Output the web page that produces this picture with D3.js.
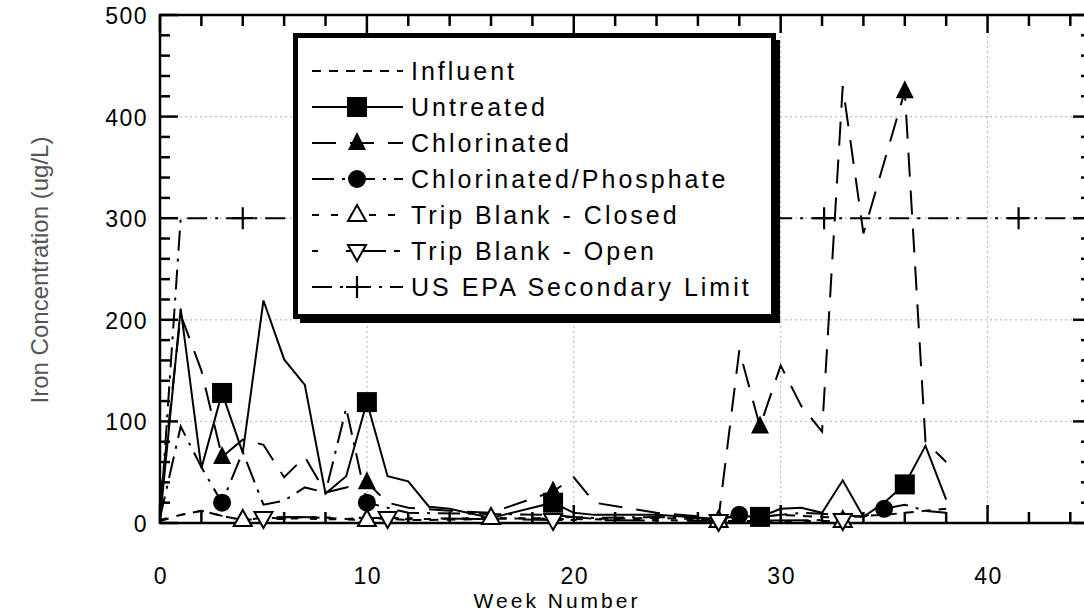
<!DOCTYPE html>
<html>
<head>
<meta charset="utf-8">
<script src="https://cdn.jsdelivr.net/npm/d3@7/dist/d3.min.js"></script>
<style>
  html, body { margin: 0; padding: 0; background: #fff; }
  svg { display: block; }
  text { font-family: "Liberation Sans", Arial, sans-serif; }
</style>
</head>
<body>
<svg id="chart" width="1084" height="614"></svg>
<script>
// Iron concentration by week for each sampling location
const influentWeeks = [0, 1, 2, 3, 4, 5, 6, 7, 8, 9, 10, 11, 12, 13, 16, 19, 20, 21, 24, 27, 28, 29, 30, 31, 32, 33, 34, 35, 36, 37, 38];
const influentIron  = [2, 8, 12, 7, 3, 4, 4, 6, 5, 4, 5, 4, 3, 3, 4, 5, 6, 4, 5, 3, 5, 6, 8, 7, 6, 5, 7, 8, 10, 12, 14];

const untreatedWeeks = [0, 1, 2, 3, 4, 5, 6, 7, 8, 9, 10, 11, 12, 13, 14, 16, 19, 20, 21, 24, 27, 28, 29, 30, 31, 32, 33, 34, 35, 36, 37, 38];
const untreatedIron  = [3, 211, 54, 128, 69, 219, 161, 136, 29, 46, 119, 46, 41, 16, 14, 5, 20, 10, 8, 8, 4, 7, 6, 14, 15, 10, 42, 6, 20, 38, 76, 23];

const chlorinatedWeeks = [0, 1, 2, 3, 4, 5, 6, 7, 8, 9, 10, 11, 12, 14, 16, 19, 20, 21, 24, 27, 28, 29, 30, 31, 32, 33, 34, 35, 36, 37, 38];
const chlorinatedIron  = [20, 205, 150, 65, 82, 77, 45, 65, 30, 35, 40, 20, 15, 12, 10, 31, 45, 20, 10, 5, 170, 95, 155, 115, 90, 430, 285, 355, 425, 80, 60];

const chlorPhosWeeks = [0, 1, 2, 3, 4, 5, 6, 7, 8, 9, 10, 11, 12, 19, 20, 21, 24, 27, 28, 29, 30, 31, 32, 33, 34, 35, 36, 37, 38];
const chlorPhosIron  = [5, 95, 55, 20, 70, 18, 22, 35, 30, 113, 20, 15, 10, 8, 6, 5, 6, 4, 8, 6, 8, 10, 9, 8, 6, 14, 18, 12, 10];

const closedWeeks = [0, 1, 2, 3, 4, 5, 10, 16, 27, 33];
const closedIron  = [3, 8, 12, 7, 3, 5, 3, 5, 2, 2];

const openWeeks = [4, 5, 6, 10, 11, 19, 27, 33];
const openIron  = [4, 5, 6, 5, 5, 3, 2, 3];

const limitWeeks = [0, 1, 45];
const limitIron  = [0, 300, 300];

// weeks at which each series shows its symbol
const untreatedMarks   = [3, 10, 19, 29, 36];
const chlorinatedMarks = [3, 10, 19, 29, 36];
const chlorPhosMarks   = [3, 10, 28, 35];
const closedMarks      = [4, 10, 16, 27, 33];
const openMarks        = [5, 11, 19, 27, 33];
const limitMarks       = [4, 13.4, 22.8, 32.1, 41.5];

const xTicks = [0, 10, 20, 30, 40];
const yTicks = [0, 100, 200, 300, 400, 500];

const svg = d3.select("#chart");
const x = d3.scaleLinear().domain([0, 45]).range([160, 1091]);
const y = d3.scaleLinear().domain([0, 500]).range([523, 15]);

const series = [
  { name: "Influent", weeks: influentWeeks, vals: influentIron, marks: [], dash: "9,8", sym: null },
  { name: "Untreated", weeks: untreatedWeeks, vals: untreatedIron, marks: untreatedMarks, dash: null, sym: "square" },
  { name: "Chlorinated", weeks: chlorinatedWeeks, vals: chlorinatedIron, marks: chlorinatedMarks, dash: "24,14", sym: "tri" },
  { name: "Chlorinated/Phosphate", weeks: chlorPhosWeeks, vals: chlorPhosIron, marks: chlorPhosMarks, dash: "22,8,3,8", sym: "circle" },
  { name: "Trip Blank - Closed", weeks: closedWeeks, vals: closedIron, marks: closedMarks, dash: "7,12", sym: "openUp" },
  { name: "Trip Blank - Open", weeks: openWeeks, vals: openIron, marks: openMarks, dash: "6,28,40,8", sym: "openDown" },
  { name: "US EPA Secondary Limit", weeks: limitWeeks, vals: limitIron, marks: limitMarks, dash: "20,8,3,8", sym: "plus" }
];

// dotted grid at major ticks
const grid = svg.append("g").attr("stroke", "#bdbdbd").attr("stroke-width", 1.2).attr("stroke-dasharray", "2,3");
[10, 20, 30, 40].forEach(v => grid.append("line").attr("x1", x(v)).attr("x2", x(v)).attr("y1", y(0)).attr("y2", y(500)));
[100, 200, 300, 400].forEach(v => grid.append("line").attr("x1", x(0)).attr("x2", x(45)).attr("y1", y(v)).attr("y2", y(v)));

// frame with inward ticks on all four sides
const frame = svg.append("g").attr("stroke", "#000").attr("stroke-width", 2.5);
frame.append("rect").attr("x", x(0)).attr("y", y(500)).attr("width", x(45) - x(0)).attr("height", y(0) - y(500)).attr("fill", "none");
d3.range(0, 46, 2).forEach(v => {
  const len = v % 10 === 0 ? 18 : 11;
  frame.append("line").attr("x1", x(v)).attr("x2", x(v)).attr("y1", y(0)).attr("y2", y(0) - len);
  frame.append("line").attr("x1", x(v)).attr("x2", x(v)).attr("y1", y(500)).attr("y2", y(500) + len);
});
d3.range(0, 501, 20).forEach(v => {
  const len = v % 100 === 0 ? 18 : 10;
  frame.append("line").attr("x1", x(0)).attr("x2", x(0) + len).attr("y1", y(v)).attr("y2", y(v));
  frame.append("line").attr("x1", x(45)).attr("x2", x(45) - len).attr("y1", y(v)).attr("y2", y(v));
});

// tick labels
svg.append("g").selectAll("text").data(xTicks).join("text")
  .attr("x", d => x(d) + 1).attr("y", 584).attr("text-anchor", "middle")
  .attr("font-size", 23).attr("letter-spacing", 1.5).text(d => d);
svg.append("g").selectAll("text").data(yTicks).join("text")
  .attr("x", 148).attr("y", d => y(d) + 9).attr("text-anchor", "end")
  .attr("font-size", 23).attr("letter-spacing", 1.5).text(d => d);

// axis titles
svg.append("text").attr("x", 557).attr("y", 608).attr("text-anchor", "middle")
  .attr("font-size", 21).attr("letter-spacing", 3).text("Week Number");
svg.append("text").attr("transform", "translate(48,270) rotate(-90)").attr("text-anchor", "middle")
  .attr("font-size", 24).attr("fill", "#555").text("Iron Concentration (ug/L)");

// symbol drawing
function drawSymbol(g, sym, cx, cy) {
  if (sym === "square") {
    g.append("rect").attr("x", cx - 10).attr("y", cy - 10).attr("width", 20).attr("height", 20).attr("fill", "#000");
  } else if (sym === "tri") {
    g.append("path").attr("d", `M${cx},${cy - 11}L${cx + 9},${cy + 7}L${cx - 9},${cy + 7}Z`).attr("fill", "#000");
  } else if (sym === "circle") {
    g.append("circle").attr("cx", cx).attr("cy", cy).attr("r", 9).attr("fill", "#000");
  } else if (sym === "openUp") {
    g.append("path").attr("d", `M${cx},${cy - 10}L${cx + 9},${cy + 6}L${cx - 9},${cy + 6}Z`)
      .attr("fill", "#fff").attr("stroke", "#000").attr("stroke-width", 2);
  } else if (sym === "openDown") {
    g.append("path").attr("d", `M${cx},${cy + 10}L${cx + 9},${cy - 6}L${cx - 9},${cy - 6}Z`)
      .attr("fill", "#fff").attr("stroke", "#000").attr("stroke-width", 2);
  } else if (sym === "plus") {
    g.append("path").attr("d", `M${cx - 11},${cy}H${cx + 11}M${cx},${cy - 11}V${cy + 11}`)
      .attr("stroke", "#000").attr("stroke-width", 2.2).attr("fill", "none");
  }
}

const line = d3.line().x(d => x(d[0])).y(d => y(d[1]));
const plot = svg.append("g");
series.forEach(s => {
  const pts = s.weeks.map((w, i) => [w, s.vals[i]]);
  plot.append("path").attr("d", line(pts)).attr("fill", "none").attr("stroke", "#000")
    .attr("stroke-width", 2).attr("stroke-dasharray", s.dash);
});
series.forEach(s => {
  const g = plot.append("g");
  s.marks.forEach(w => {
    let v;
    const i = s.weeks.indexOf(w);
    if (i >= 0) v = s.vals[i];
    else {
      const j = d3.bisectLeft(s.weeks, w);
      const t = (w - s.weeks[j - 1]) / (s.weeks[j] - s.weeks[j - 1]);
      v = s.vals[j - 1] + t * (s.vals[j] - s.vals[j - 1]);
    }
    drawSymbol(g, s.sym, x(w), y(v));
  });
});

// legend box with drop shadow
const lg = svg.append("g");
lg.append("rect").attr("x", 300).attr("y", 40).attr("width", 480).attr("height", 283).attr("fill", "#000");
lg.append("rect").attr("x", 295.5).attr("y", 35.5).attr("width", 478).attr("height", 281)
  .attr("fill", "#fff").attr("stroke", "#000").attr("stroke-width", 5);
series.forEach((s, i) => {
  const cy = 71 + i * 36;
  lg.append("line").attr("x1", 312).attr("x2", 403).attr("y1", cy).attr("y2", cy)
    .attr("stroke", "#000").attr("stroke-width", 2).attr("stroke-dasharray", s.dash);
  if (s.sym) drawSymbol(lg, s.sym, 357, cy);
  lg.append("text").attr("x", 411).attr("y", cy + 9).attr("font-size", 25)
    .attr("letter-spacing", 3).text(s.name);
});
</script>
</body>
</html>
